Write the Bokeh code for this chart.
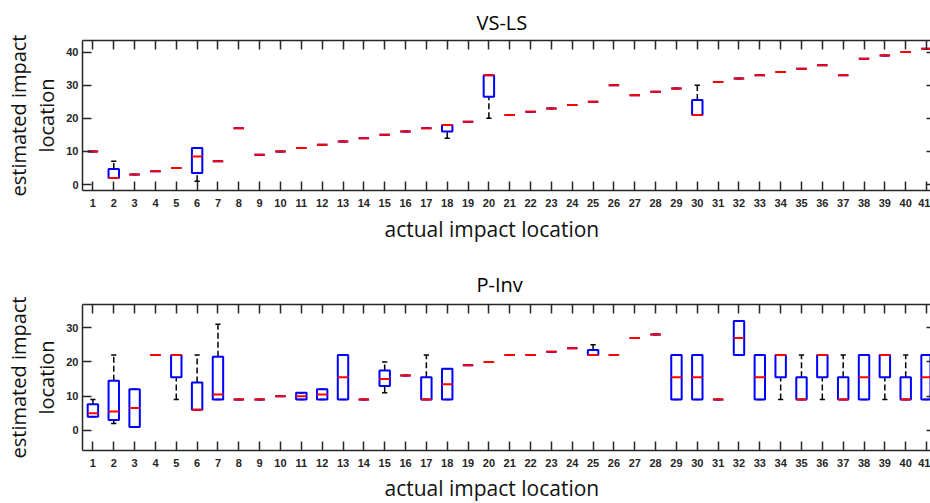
from bokeh.plotting import figure
from bokeh.layouts import column
from bokeh.models import LinearAxis, FixedTicker, Range1d, ColumnDataSource, Title
from bokeh.transform import dodge
from bokeh.embed import file_html
from bokeh.resources import INLINE

# ---------------- data ----------------
locations = list(range(1, 42))
tick_labels = [str(i) for i in locations]

# VS-LS : whisker min, q1, median, q3, whisker max
vs_min = [10, 2, 3, 4, 5, 1, 7, 17, 9, 10, 11, 12, 13, 14, 15, 16, 17, 14, 19, 20, 21,
          22, 23, 24, 25, 30, 27, 28, 29, 21, 31, 32, 33, 34, 35, 36, 33, 38, 39, 40, 41]
vs_q1 = [10, 2, 3, 4, 5, 3.5, 7, 17, 9, 10, 11, 12, 13, 14, 15, 16, 17, 16, 19, 26.5, 21,
         22, 23, 24, 25, 30, 27, 28, 29, 21, 31, 32, 33, 34, 35, 36, 33, 38, 39, 40, 41]
vs_med = [10, 2, 3, 4, 5, 8.5, 7, 17, 9, 10, 11, 12, 13, 14, 15, 16, 17, 18, 19, 33, 21,
          22, 23, 24, 25, 30, 27, 28, 29, 21, 31, 32, 33, 34, 35, 36, 33, 38, 39, 40, 41]
vs_q3 = [10, 4.7, 3, 4, 5, 11, 7, 17, 9, 10, 11, 12, 13, 14, 15, 16, 17, 18, 19, 33, 21,
         22, 23, 24, 25, 30, 27, 28, 29, 25.5, 31, 32, 33, 34, 35, 36, 33, 38, 39, 40, 41]
vs_max = [10, 7, 3, 4, 5, 11, 7, 17, 9, 10, 11, 12, 13, 14, 15, 16, 17, 18, 19, 33, 21,
          22, 23, 24, 25, 30, 27, 28, 29, 30, 31, 32, 33, 34, 35, 36, 33, 38, 39, 40, 41]

# P-Inv
pi_min = [4, 2, 1, 22, 9, 6, 9, 9, 9, 10, 9, 9, 9, 9, 11, 16, 9, 9, 19, 20, 22,
          22, 23, 24, 22, 22, 27, 28, 9, 9, 9, 22, 9, 9, 9, 9, 9, 9, 9, 9, 9]
pi_q1 = [4, 3, 1, 22, 15.5, 6, 9, 9, 9, 10, 9, 9, 9, 9, 13, 16, 9, 9, 19, 20, 22,
         22, 23, 24, 22, 22, 27, 28, 9, 9, 9, 22, 9, 15.5, 9, 15.5, 9, 9, 15.5, 9, 9]
pi_med = [5, 5.5, 6.5, 22, 22, 6, 10.5, 9, 9, 10, 10, 10.5, 15.5, 9, 15, 16, 9, 13.5, 19, 20, 22,
          22, 23, 24, 22, 22, 27, 28, 15.5, 15.5, 9, 27, 15.5, 22, 9, 22, 9, 15.5, 22, 9, 15.5]
pi_q3 = [7.6, 14.5, 12, 22, 22, 14, 21.5, 9, 9, 10, 11, 12, 22, 9, 17.5, 16, 15.5, 18, 19, 20, 22,
         22, 23, 24, 23.5, 22, 27, 28, 22, 22, 9, 32, 22, 22, 15.5, 22, 15.5, 22, 22, 15.5, 22]
pi_max = [9, 22, 12, 22, 22, 22, 31, 9, 9, 10, 11, 12, 22, 9, 20, 16, 22, 18, 19, 20, 22,
          22, 23, 24, 25, 22, 27, 28, 22, 22, 9, 32, 22, 22, 22, 22, 22, 22, 22, 22, 22]

vs_yticks = [0, 10, 20, 30, 40]
pi_yticks = [0, 10, 20, 30]

AX = "#262626"


def style_axis(ax, labels=True):
    ax.axis_line_color = AX
    ax.axis_line_width = 1.5
    ax.major_tick_line_color = AX
    ax.major_tick_line_width = 1.5
    ax.major_tick_in = 9
    ax.major_tick_out = 0
    ax.minor_tick_line_color = None
    ax.major_label_text_font = "Liberation Sans"
    ax.major_label_text_font_style = "bold"
    ax.major_label_text_color = AX
    if labels:
        ax.major_label_text_font_size = "11px"
    else:
        ax.major_label_text_font_size = "0px"
        ax.major_label_text_color = None
        ax.major_label_standoff = 0
    ax.axis_label_text_font = "Open Sans"
    ax.axis_label_text_font_style = "normal"
    ax.axis_label_text_color = "#111111"


def make_panel(title, mins, q1s, meds, q3s, maxs, y0, y1, yticks, height, btop, bbottom,
               title_standoff, xlabel_standoff):
    p = figure(width=930, height=height, output_backend="svg", toolbar_location=None,
               x_range=Range1d(0.5, 41.19), y_range=Range1d(y0, y1),
               x_axis_location=None, y_axis_location=None,
               min_border_left=82, min_border_right=0,
               min_border_top=btop, min_border_bottom=bbottom)
    p.outline_line_color = None
    p.grid.grid_line_color = None
    p.background_fill_color = "white"
    p.border_fill_color = "white"

    p.title.text = title
    p.title.align = "left"
    p.title.offset = 394
    p.title.text_font = "Open Sans"
    p.title.text_font_size = "20px"
    p.title.text_font_style = "normal"
    p.title.text_color = "#000000"
    p.title.standoff = title_standoff

    xb = LinearAxis(ticker=FixedTicker(ticks=locations),
                    major_label_overrides={x: t for x, t in zip(locations, tick_labels)})
    style_axis(xb)
    xb.major_label_standoff = 8
    p.add_layout(xb, "below")

    xlabel = Title(text="actual impact location", align="left", offset=302,
                   text_font="Open Sans", text_font_size="21px", text_font_style="normal",
                   text_color="#111111", standoff=xlabel_standoff)
    p.add_layout(xlabel, "below")

    xa = LinearAxis(ticker=FixedTicker(ticks=locations))
    style_axis(xa, labels=False)
    p.add_layout(xa, "above")

    yl = LinearAxis(ticker=FixedTicker(ticks=yticks))
    style_axis(yl)
    yl.major_label_standoff = 4
    yl.axis_label = "estimated impact\nlocation"
    yl.axis_label_text_font_size = "20px"
    yl.axis_label_text_line_height = 1.05
    yl.axis_label_standoff = 3
    p.add_layout(yl, "left")

    yr = LinearAxis(ticker=FixedTicker(ticks=yticks))
    style_axis(yr, labels=False)
    yr.axis_line_color = None
    yr.major_tick_in = 4
    p.add_layout(yr, "right")

    src = ColumnDataSource(dict(x=locations, lo=mins, q1=q1s, med=meds, q3=q3s, hi=maxs))

    # whiskers
    p.segment(x0="x", y0="q3", x1="x", y1="hi", source=src, line_color="black",
              line_width=1.5, line_dash="6 3")
    p.segment(x0="x", y0="lo", x1="x", y1="q1", source=src, line_color="black",
              line_width=1.5, line_dash="6 3")
    # caps
    p.segment(x0=dodge("x", -0.125), y0="hi", x1=dodge("x", 0.125), y1="hi", source=src,
              line_color="black", line_width=1.5)
    p.segment(x0=dodge("x", -0.125), y0="lo", x1=dodge("x", 0.125), y1="lo", source=src,
              line_color="black", line_width=1.5)
    # boxes
    p.vbar(x="x", width=0.5, bottom="q1", top="q3", source=src, fill_color=None,
           line_color="#0000ff", line_width=2)
    # medians
    p.segment(x0=dodge("x", -0.25), y0="med", x1=dodge("x", 0.25), y1="med", source=src,
              line_color="#ff0000", line_width=2)
    return p


p1 = make_panel("VS-LS", vs_min, vs_q1, vs_med, vs_q3, vs_max, -1.8, 43.5, vs_yticks,
                255, 40, 65, 9, 6)
p2 = make_panel("P-Inv", pi_min, pi_q1, pi_med, pi_q3, pi_max, -5.9, 36.8, pi_yticks,
                248, 49, 50, 14, 4)

layout = column(p1, p2, spacing=0)
open("out.html", "w").write(file_html(layout, INLINE))
